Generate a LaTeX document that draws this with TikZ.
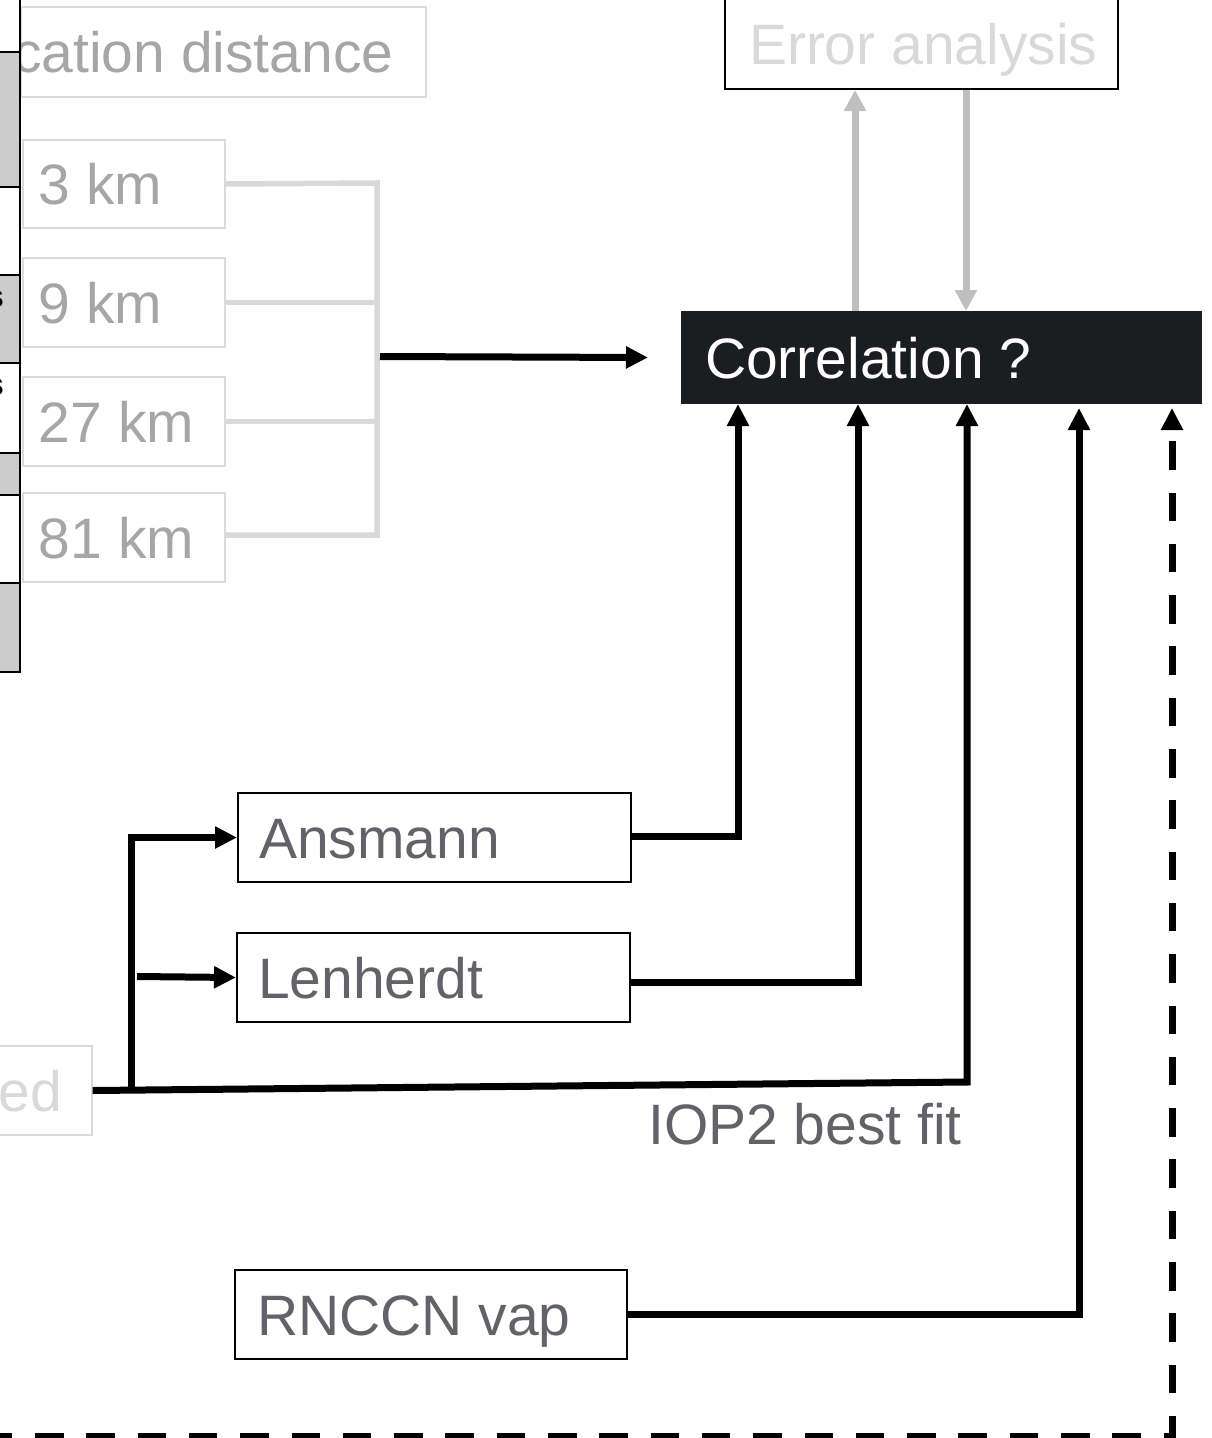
\documentclass[tikz,border=0pt]{standalone}
\usepackage{fontspec}
\setmainfont{Liberation Sans}
\usetikzlibrary{arrows.meta,calc}
\definecolor{lgtext}{HTML}{A6A6A6}
\definecolor{lgline}{HTML}{D9D9D9}
\definecolor{lgborder}{HTML}{DADADA}
\definecolor{dgtext}{HTML}{616369}
\definecolor{corrfill}{HTML}{1B1D20}
\definecolor{garrow}{HTML}{BFBFBF}
\definecolor{cellgray}{HTML}{CCCCCC}
\newcommand\bxt[3]{\makebox[#1pt][l]{\hspace{#2pt}#3}}
\begin{document}
\begin{tikzpicture}[x=1pt,y=-1pt,
  bigfont/.style={font=\fontsize{57}{60}\selectfont},
  box/.style={rectangle, anchor=north west, inner xsep=0pt, inner ysep=0pt, text height=41pt, text depth=0pt, bigfont, line width=2pt},
  blackbox/.style={box, draw=black, text=dgtext},
  ghostbox/.style={box, draw=lgborder, text=lgtext},
  blk/.style={line width=7pt, black},
  barr/.style={blk, -{Triangle[length=22pt,width=21pt]}},
  garr/.style={line width=7pt, garrow, -{Triangle[length=21pt,width=21pt]}},
  gline/.style={line width=5.5pt, lgline},
  dashline/.style={blk, dash pattern=on 28.5pt off 22.8pt, -{Triangle[length=22pt,width=21pt]}},
]
\useasboundingbox (0,0) rectangle (1211,1438);
\begin{scope}
\clip (0,0) rectangle (1211,1438);

% cut-off table on the left
\fill[cellgray] (0,52) rectangle (19.5,187);
\fill[cellgray] (0,275) rectangle (19.5,363);
\fill[cellgray] (0,453) rectangle (19.5,495);
\fill[cellgray] (0,583) rectangle (19.5,672);
\node[anchor=base east, inner sep=0pt, font=\fontsize{32}{34}\selectfont\bfseries] (s1) at (4,307) {s};
\node[anchor=base east, inner sep=0pt, font=\fontsize{32}{34}\selectfont\bfseries] (s2) at (4,395) {s};

% ghost boxes
\node[ghostbox, minimum height=90pt] (dist) at (20,6) {\bxt{405}{0}{}};
\begin{scope}
\clip (21,0) rectangle (440,100);
\node[anchor=base west, inner sep=0pt, bigfont, text=lgtext] (distlbl) at (13,72) {cation distance};
\end{scope}
\node[ghostbox, minimum height=88pt] (km3) at (22,139) {\bxt{202}{16}{3 km}};
\node[ghostbox, minimum height=89pt] (km9) at (22,257) {\bxt{202}{16}{9 km}};
\node[ghostbox, minimum height=89pt] (km27) at (22,376) {\bxt{202}{16}{27 km}};
\node[ghostbox, minimum height=89pt] (km81) at (22,492) {\bxt{202}{16}{81 km}};

\foreach \yy in {52,187,275,363,453,495,583,672} \draw[line width=2pt] (0,\yy) -- (19.5,\yy);
\draw[line width=2pt] (19.5,-2) -- (19.5,673);

% main boxes
\node[box, draw=black, text=lgline, minimum height=91pt] (err) at (724,-3) {\bxt{393}{24}{Error analysis}};
\node[box, fill=corrfill, draw=corrfill, text=white, minimum height=91pt] (corr) at (681,311) {\bxt{519}{23}{Correlation ?}};
\node[blackbox, minimum height=89pt] (ans) at (237,792) {\bxt{393}{21}{Ansmann}};
\node[blackbox, minimum height=89pt] (len) at (236,932) {\bxt{393}{21}{Lenherdt}};
\node[blackbox, minimum height=89pt] (rn) at (234,1269) {\bxt{392}{22}{RNCCN vap}};
\node[box, draw=lgborder, text=lgline, minimum height=89pt] (ed) at (-40,1045) {\makebox[130.7pt][r]{ed\hspace{29.7pt}}};
\node[anchor=base west, inner sep=0pt, bigfont, text=dgtext] (iop) at (648,1144) {IOP2 best fit};

% gray bus from distances
\coordinate (bt) at (377,183);
\coordinate (bb) at (377,535);
\draw[gline] (km3.east) -- (bt) -- (bb) -- (km81.east |- bb);
\draw[gline] (km9.east) -- (km9.east -| bt);
\draw[gline] (km27.east) -- (km27.east -| bt);
\coordinate (bj) at (380,356.5);
\draw[barr] (bj) -- ([xshift=-33pt]corr.west);

% error analysis loop
\coordinate (xa) at (855,0);
\coordinate (xb) at (966,0);
\draw[garr] (corr.north -| xa) -- (err.south -| xa);
\draw[garr] (err.south -| xb) -- (corr.north -| xb);

% inputs to correlation
\coordinate (x1) at (738,0);
\coordinate (x2) at (858,0);
\coordinate (x3) at (967,0);
\coordinate (x4) at (1079,0);
\coordinate (x5) at (1172,0);
\draw[barr] ([yshift=1.5pt]ans.east) -| (corr.south -| x1);
\draw[barr] ([yshift=-4.5pt]len.east) -| (corr.south -| x2);
\coordinate (c3) at (967,1082);
\draw[barr] (ed.east) -- (c3) -- (corr.south -| x3);
\coordinate (jn) at (131,1089.2);
\draw[barr] (jn) |- (ans.west);
\coordinate (ls) at (137,976.5);
\draw[barr] (ls) -- (len.west);
\draw[barr, shorten >=4pt] (rn.east) -| (corr.south -| x4);
\coordinate (ds) at (-16.3,1436);
\draw[dashline, shorten >=4pt] (ds) -| (corr.south -| x5);
\end{scope}
\end{tikzpicture}
\end{document}
